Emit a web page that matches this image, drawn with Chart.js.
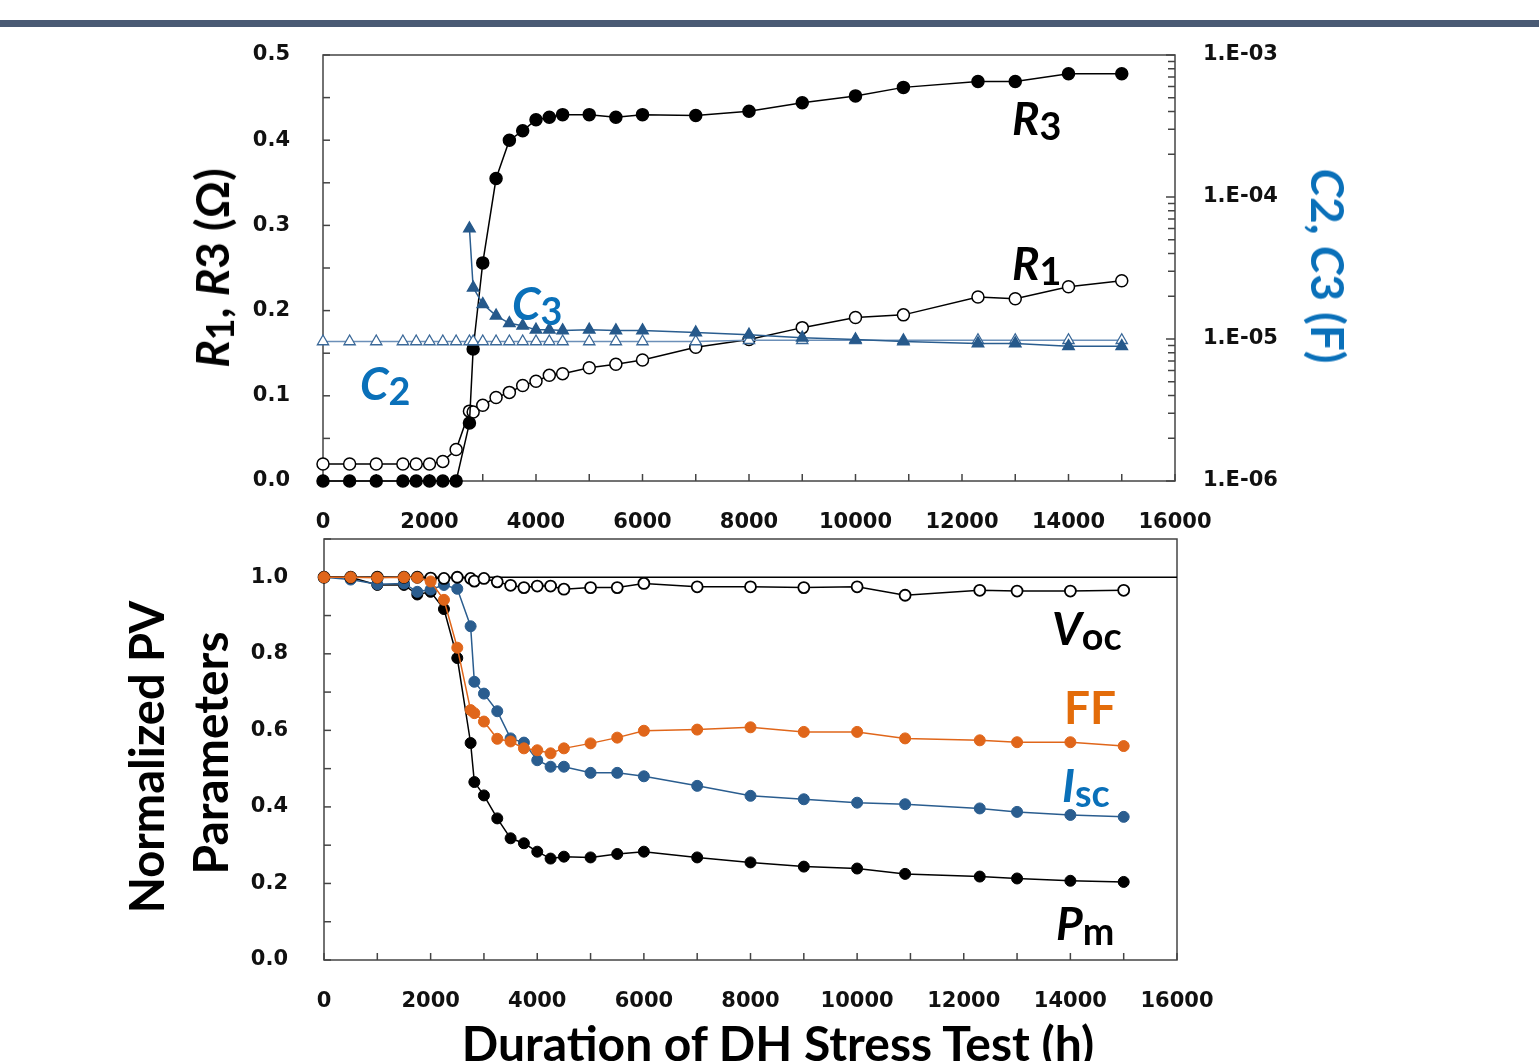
<!DOCTYPE html>
<html>
<head>
<meta charset="utf-8">
<script src="https://cdn.jsdelivr.net/npm/chart.js@4.4.1/dist/chart.umd.min.js"></script>
<style>
  body { margin: 0; width: 1539px; height: 1061px; overflow: hidden; background: #fff; font-family: Lato, sans-serif; }
  .bar { position: absolute; left: 0; top: 20px; width: 1539px; height: 7px; background: #4a5a74; }
  canvas { position: absolute; left: 0; }
  #chartTop { top: 0; }
  #chartBottom { top: 480px; }
  .ttl { position: absolute; font-weight: bold; font-size: 46px; line-height: 1; white-space: nowrap; color: #000; }
  .rot { transform: translate(-50%, -50%) rotate(-90deg); }
  .rotr { transform: translate(-50%, -50%) rotate(90deg); }
  .ann { position: absolute; font-weight: bold; font-size: 46px; line-height: 1; white-space: nowrap; color: #000; }
  .ann sub, .ttl sub { font-size: 0.82em; vertical-align: -0.14em; font-style: normal; }
  .blue { color: #0a70b9; }
  .orange { color: #e36c0a; }
</style>
</head>
<body>
<div class="bar"></div>
<canvas id="chartTop" width="1539" height="540"></canvas>
<canvas id="chartBottom" width="1539" height="581"></canvas>

<div class="ttl rot" style="left:214px; top:268px;"><i>R<sub>1</sub></i>, <i>R</i>3 (Ω)</div>
<div class="ttl rotr blue" style="left:1328px; top:266px;"><i>C</i>2, <i>C</i>3 (F)</div>
<div class="ttl rot" style="left:146px; top:757px; font-size:47px;">Normalized PV</div>
<div class="ttl rot" style="left:210px; top:753px; font-size:48px;">Parameters</div>
<div class="ttl" style="left:778px; top:1019px; font-size:48px; transform:translateX(-50%);">Duration of DH Stress Test (h)</div>

<div class="ann" style="left:1012px; top:95px;"><i>R</i><sub>3</sub></div>
<div class="ann" style="left:1012px; top:240px;"><i>R</i><sub>1</sub></div>
<div class="ann blue" style="left:512px; top:280px;"><i>C</i><sub>3</sub></div>
<div class="ann blue" style="left:360px; top:360px;"><i>C</i><sub>2</sub></div>
<div class="ann" style="left:1052px; top:605px;"><i>V</i><sub>oc</sub></div>
<div class="ann orange" style="left:1064px; top:684px;">FF</div>
<div class="ann blue" style="left:1062px; top:762px;"><i>I</i><sub>sc</sub></div>
<div class="ann" style="left:1056px; top:900px;"><i>P</i><sub>m</sub></div>

<script>
// Duration of DH stress test (h)
const hours = [0, 500, 1000, 1500, 1750, 2000, 2250, 2500, 2750, 2820, 3000, 3250, 3500, 3750, 4000, 4250, 4500, 5000, 5500, 6000, 7000, 8000, 9000, 10000, 10900, 12300, 13000, 14000, 15000];

// Top panel: resistances (Ohm) and capacitances (F)
const r1 = [0.020, 0.020, 0.020, 0.020, 0.020, 0.020, 0.023, 0.037, 0.082, 0.081, 0.089, 0.098, 0.104, 0.112, 0.117, 0.124, 0.126, 0.133, 0.137, 0.142, 0.157, 0.166, 0.180, 0.192, 0.195, 0.216, 0.214, 0.228, 0.235];
const r3 = [0, 0, 0, 0, 0, 0, 0, 0, 0.068, 0.155, 0.256, 0.355, 0.400, 0.411, 0.424, 0.427, 0.430, 0.430, 0.427, 0.430, 0.429, 0.434, 0.444, 0.452, 0.462, 0.469, 0.469, 0.478, 0.478];
const c2 = [9.6e-6, 9.6e-6, 9.6e-6, 9.6e-6, 9.6e-6, 9.6e-6, 9.6e-6, 9.6e-6, 9.6e-6, 9.6e-6, 9.6e-6, 9.6e-6, 9.6e-6, 9.6e-6, 9.6e-6, 9.6e-6, 9.6e-6, 9.6e-6, 9.6e-6, 9.6e-6, 9.6e-6, 9.8e-6, 9.8e-6, 9.8e-6, 9.8e-6, 9.8e-6, 9.8e-6, 9.8e-6, 9.8e-6];
const c3 = [null, null, null, null, null, null, null, null, 6.0e-5, 2.3e-5, 1.76e-5, 1.46e-5, 1.29e-5, 1.24e-5, 1.16e-5, 1.16e-5, 1.15e-5, 1.16e-5, 1.15e-5, 1.15e-5, 1.11e-5, 1.07e-5, 1.02e-5, 9.9e-6, 9.6e-6, 9.3e-6, 9.3e-6, 8.9e-6, 8.9e-6];

// Bottom panel: normalized PV parameters
const voc = [1.000, 1.000, 1.000, 1.000, 1.000, 0.998, 0.997, 1.000, 0.997, 0.990, 0.997, 0.988, 0.979, 0.973, 0.977, 0.977, 0.969, 0.973, 0.973, 0.984, 0.975, 0.975, 0.973, 0.975, 0.953, 0.966, 0.964, 0.964, 0.966];
const ff = [1.000, 1.000, 0.999, 1.000, 0.999, 0.989, 0.941, 0.816, 0.653, 0.645, 0.623, 0.578, 0.571, 0.553, 0.548, 0.540, 0.553, 0.566, 0.581, 0.599, 0.602, 0.608, 0.596, 0.596, 0.579, 0.574, 0.569, 0.569, 0.559];
const isc = [1.000, 0.994, 0.982, 0.984, 0.962, 0.968, 0.980, 0.970, 0.872, 0.727, 0.696, 0.650, 0.579, 0.568, 0.522, 0.505, 0.505, 0.489, 0.489, 0.480, 0.455, 0.429, 0.420, 0.411, 0.407, 0.396, 0.387, 0.379, 0.374];
const pm = [1.000, 1.000, 0.980, 0.980, 0.955, 0.962, 0.917, 0.789, 0.567, 0.465, 0.430, 0.370, 0.318, 0.305, 0.283, 0.265, 0.270, 0.268, 0.277, 0.283, 0.268, 0.255, 0.244, 0.239, 0.225, 0.218, 0.213, 0.207, 0.204];

// Tick labels
const xTickLabels = ["0", "2000", "4000", "6000", "8000", "10000", "12000", "14000", "16000"];
const yTopLabels = ["0.0", "0.1", "0.2", "0.3", "0.4", "0.5"];
const yRightLabels = ["1.E-06", "1.E-05", "1.E-04", "1.E-03"];
const yBottomLabels = ["0.0", "0.2", "0.4", "0.6", "0.8", "1.0"];
const refLevel = 1.0;

Chart.defaults.font.family = "'DejaVu Sans', sans-serif";
Chart.defaults.font.size = 21;
Chart.defaults.font.weight = "bold";
Chart.defaults.color = "#111";

function pts(values) {
  return hours.map(function (h, i) {
    return { x: h, y: values[i] };
  });
}

// Frame, inward tick marks and reference line
const framePlugin = {
  id: "frame",
  beforeDatasetsDraw(chart, args, opts) {
    const ctx = chart.ctx;
    const a = chart.chartArea;
    ctx.save();
    ctx.strokeStyle = "#444";
    ctx.lineWidth = 1.5;
    ctx.strokeRect(a.left, a.top, a.right - a.left, a.bottom - a.top);
    Object.values(chart.scales).forEach(function (scale) {
      scale.ticks.forEach(function (t) {
        const p = scale.getPixelForValue(t.value);
        const len = t.major ? opts.major : opts.minor;
        ctx.beginPath();
        if (scale.position === "bottom") {
          ctx.moveTo(p, a.bottom);
          ctx.lineTo(p, a.bottom - len);
        } else if (scale.position === "left") {
          ctx.moveTo(a.left, p);
          ctx.lineTo(a.left + len, p);
        } else {
          ctx.moveTo(a.right, p);
          ctx.lineTo(a.right - len, p);
        }
        ctx.stroke();
      });
    });
    if (opts.refLevel != null) {
      const y = chart.scales.y.getPixelForValue(opts.refLevel);
      ctx.strokeStyle = "#000";
      ctx.beginPath();
      ctx.moveTo(a.left, y);
      ctx.lineTo(a.right, y);
      ctx.stroke();
    }
    ctx.restore();
  },
};

const noGrid = { display: false, drawTicks: false };

const xScale = function (h) {
  return {
    type: "linear",
    position: "bottom",
    min: 0,
    max: 16000,
    grid: noGrid,
    border: { display: false },
    ticks: {
      stepSize: 1000,
      autoSkip: false,
      maxRotation: 0,
      padding: 29,
      callback: function (v) {
        return xTickLabels.includes(String(v)) ? String(v) : "";
      },
    },
    afterFit: function (s) {
      s.height = h;
    },
  };
};

// Top chart
new Chart(document.getElementById("chartTop"), {
  type: "line",
  data: {
    datasets: [
      {
        data: pts(c3),
        borderColor: "#2a5d8f",
        borderWidth: 1.5,
        pointStyle: "triangle",
        pointRadius: 6.5,
        pointBackgroundColor: "#26598b",
        pointBorderColor: "#26598b",
        yAxisID: "y2",
        order: 0,
      },
      {
        data: pts(c2),
        borderColor: "#6b8fb8",
        borderWidth: 1.5,
        pointStyle: "triangle",
        pointRadius: 6.5,
        pointBackgroundColor: "#fff",
        pointBorderColor: "#3a6898",
        pointBorderWidth: 1.3,
        yAxisID: "y2",
        order: 1,
      },
      {
        data: pts(r3),
        borderColor: "#000",
        borderWidth: 1.5,
        pointRadius: 6,
        pointBackgroundColor: "#000",
        pointBorderColor: "#000",
        yAxisID: "y",
        order: 2,
      },
      {
        data: pts(r1),
        borderColor: "#000",
        borderWidth: 1.5,
        pointRadius: 6,
        pointBackgroundColor: "#fff",
        pointBorderColor: "#000",
        pointBorderWidth: 1.5,
        yAxisID: "y",
        order: 3,
      },
    ],
  },
  options: {
    responsive: false,
    animation: false,
    clip: false,
    layout: { padding: { top: 55, left: 0, right: 0, bottom: 0 } },
    elements: { line: { tension: 0 } },
    plugins: {
      legend: { display: false },
      tooltip: { enabled: false },
      frame: { major: 9, minor: 7 },
    },
    scales: {
      x: xScale(59),
      y: {
        type: "linear",
        position: "left",
        min: 0,
        max: 0.5,
        grid: noGrid,
        border: { display: false },
        ticks: {
          stepSize: 0.05,
          autoSkip: false,
          padding: 33,
          callback: function (v) {
            const s = v.toFixed(2);
            return yTopLabels.includes(v.toFixed(1)) && s.endsWith("0") ? v.toFixed(1) : "";
          },
        },
        afterFit: function (s) {
          s.width = 323;
        },
      },
      y2: {
        type: "logarithmic",
        position: "right",
        min: 1e-6,
        max: 1e-3,
        grid: noGrid,
        border: { display: false },
        ticks: {
          autoSkip: false,
          padding: 28,
          callback: function (v) {
            const e = Math.log10(v);
            const k = Math.round(e);
            if (Math.abs(e - k) > 1e-6) return "";
            return yRightLabels[k + 6];
          },
        },
        afterBuildTicks: function (s) {
          const list = [];
          for (let d = -6; d <= -3; d++) {
            list.push({ value: Math.pow(10, d), major: true });
            if (d < -3) {
              for (let m = 2; m <= 9; m++) list.push({ value: m * Math.pow(10, d), major: false });
            }
          }
          s.ticks = list;
        },
        afterFit: function (s) {
          s.width = 364;
        },
      },
    },
  },
  plugins: [framePlugin],
});

// Bottom chart
function pvSet(values, color, open, order) {
  return {
    data: pts(values),
    borderColor: color,
    borderWidth: 1.5,
    pointRadius: 5.5,
    pointBackgroundColor: open ? "#fff" : color,
    pointBorderColor: color,
    pointBorderWidth: open ? 1.8 : 1,
    order: order,
  };
}

new Chart(document.getElementById("chartBottom"), {
  type: "line",
  data: {
    datasets: [
      pvSet(ff, "#e0661a", false, 0),
      pvSet(voc, "#000", true, 1),
      pvSet(isc, "#2a5d8f", false, 2),
      pvSet(pm, "#000", false, 3),
    ],
  },
  options: {
    responsive: false,
    animation: false,
    clip: false,
    layout: { padding: { top: 59, left: 0, right: 362, bottom: 0 } },
    elements: { line: { tension: 0 } },
    plugins: {
      legend: { display: false },
      tooltip: { enabled: false },
      frame: { major: 9, minor: 7, refLevel: refLevel },
    },
    scales: {
      x: xScale(101),
      y: {
        type: "linear",
        position: "left",
        min: 0,
        max: 1.1,
        grid: noGrid,
        border: { display: false },
        ticks: {
          stepSize: 0.1,
          autoSkip: false,
          padding: 36,
          callback: function (v) {
            return yBottomLabels.includes(v.toFixed(1)) ? v.toFixed(1) : "";
          },
        },
        afterFit: function (s) {
          s.width = 324;
        },
      },
    },
  },
  plugins: [framePlugin],
});
</script>
</body>
</html>
